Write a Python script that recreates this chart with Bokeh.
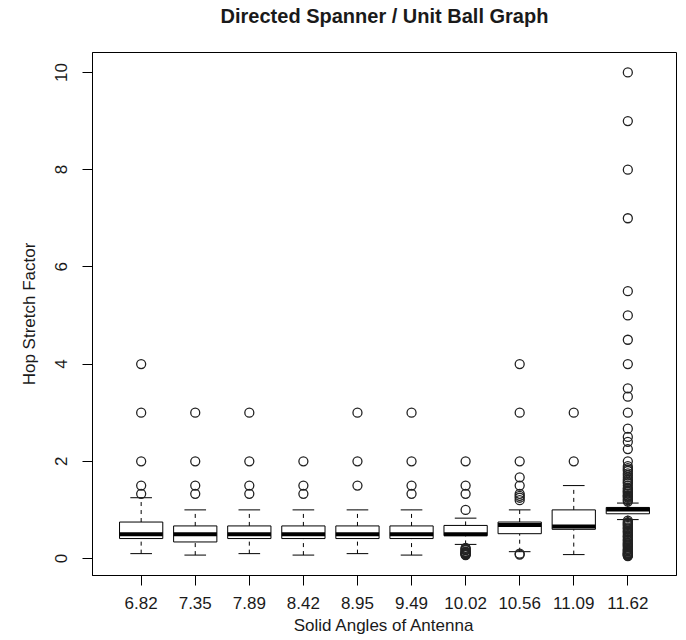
from bokeh.plotting import figure
from bokeh.models import Range1d, FixedTicker, LinearAxis
from bokeh.embed import file_html
from bokeh.resources import INLINE

# ---- data ----
angles = ["6.82", "7.35", "7.89", "8.42", "8.95", "9.49", "10.02", "10.56", "11.09", "11.62"]
q1 = [0.41, 0.34, 0.41, 0.41, 0.41, 0.41, 0.47, 0.51, 0.60, 0.92]
median = [0.50, 0.50, 0.50, 0.50, 0.50, 0.50, 0.50, 0.69, 0.66, 1.01]
q3 = [0.75, 0.67, 0.67, 0.67, 0.67, 0.67, 0.68, 0.75, 1.00, 1.05]
whisk_lo = [0.10, 0.07, 0.10, 0.07, 0.10, 0.07, 0.29, 0.14, 0.08, 0.80]
whisk_hi = [1.25, 1.00, 1.00, 1.00, 1.00, 1.00, 0.83, 1.00, 1.50, 1.14]

out_682 = [1.33, 1.5, 2.0, 3.0, 4.0]
out_735 = [1.33, 1.5, 2.0, 3.0]
out_789 = [1.33, 1.5, 2.0, 3.0]
out_842 = [1.33, 1.5, 2.0]
out_895 = [1.5, 2.0, 3.0]
out_949 = [1.33, 1.5, 2.0, 3.0]
out_1002 = [0.07, 0.08, 0.09, 0.10, 0.11, 0.12, 0.13, 0.14, 0.17, 0.18, 0.20, 0.22,
            1.0, 1.33, 1.5, 2.0]
out_1056 = [0.08, 0.10, 1.2, 1.25, 1.29, 1.33, 1.5, 1.67, 2.0, 3.0, 4.0]
out_1109 = [2.0, 3.0]
out_1162 = [0.05, 0.06, 0.07, 0.08, 0.09, 0.10, 0.11, 0.12, 0.14, 0.15, 0.17, 0.18,
            0.20, 0.23, 0.25, 0.27, 0.29, 0.31, 0.33, 0.36, 0.38, 0.40, 0.43, 0.45,
            0.47, 0.50, 0.53, 0.55, 0.57, 0.60, 0.62, 0.64, 0.67, 0.69, 0.71, 0.73,
            0.75, 0.78,
            1.17, 1.2, 1.22, 1.25, 1.27, 1.29, 1.3, 1.33, 1.36, 1.38, 1.4, 1.43,
            1.45, 1.5, 1.55, 1.57, 1.6, 1.63, 1.67, 1.71, 1.75, 1.8, 1.83, 1.86,
            1.9, 2.0, 2.25, 2.4, 2.5, 2.67, 3.0, 3.33, 3.5, 4.0, 4.5, 5.0, 5.5,
            7.0, 8.0, 9.0, 10.0]
outliers = [out_682, out_735, out_789, out_842, out_895, out_949,
            out_1002, out_1056, out_1109, out_1162]

y_ticks = [0, 2, 4, 6, 8, 10]

title_text = "Directed Spanner / Unit Ball Graph"
x_title = "Solid Angles of Antenna"
y_title = "Hop Stretch Factor"

# ---- figure ----
FONT = "Liberation Sans"
TXT = "#1a1a1a"

p = figure(frame_width=584, frame_height=523,
           min_border_left=92, min_border_right=4, min_border_top=52, min_border_bottom=65,
           x_range=Range1d(0.1, 10.9), y_range=Range1d(-0.35, 10.41),
           output_backend="svg", toolbar_location=None, tools="")

p.background_fill_color = "white"
p.border_fill_color = "white"
p.outline_line_color = "black"
p.outline_line_width = 1
p.xgrid.visible = False
p.ygrid.visible = False

xs = list(range(1, len(angles) + 1))
bw = 0.4   # half box width
cw = 0.2   # half cap width

# whiskers (dashed)
p.segment(x0=xs, y0=q3, x1=xs, y1=whisk_hi, line_color="black", line_width=1, line_dash="4 4")
p.segment(x0=xs, y0=whisk_lo, x1=xs, y1=q1, line_color="black", line_width=1, line_dash="4 4")
# caps
p.segment(x0=[x - cw for x in xs], y0=whisk_hi, x1=[x + cw for x in xs], y1=whisk_hi,
          line_color="black", line_width=1)
p.segment(x0=[x - cw for x in xs], y0=whisk_lo, x1=[x + cw for x in xs], y1=whisk_lo,
          line_color="black", line_width=1)
# boxes
p.quad(left=[x - bw for x in xs], right=[x + bw for x in xs], bottom=q1, top=q3,
       fill_color="white", line_color="black", line_width=1)
# medians
p.segment(x0=[x - bw for x in xs], y0=median, x1=[x + bw for x in xs], y1=median,
          line_color="black", line_width=4, line_cap="butt")

# outliers
ox, oy = [], []
for x, vals in zip(xs, outliers):
    for v in vals:
        ox.append(x)
        oy.append(v)
p.scatter(ox, oy, marker="circle", size=9, fill_color=None, line_color="#222222", line_width=1.3)

# axes
for ax in (p.xaxis[0], p.yaxis[0]):
    ax.axis_line_color = "black"
    ax.major_tick_line_color = "black"
    ax.major_tick_out = 10
    ax.major_tick_in = 0
    ax.minor_tick_line_color = None
    ax.major_label_text_font = FONT
    ax.major_label_text_font_size = "17px"
    ax.major_label_text_color = TXT
    ax.axis_label_text_font = FONT
    ax.axis_label_text_font_size = "17px"
    ax.axis_label_text_font_style = "normal"
    ax.axis_label_text_color = TXT

p.xaxis.ticker = FixedTicker(ticks=xs)
p.xaxis.major_label_overrides = {x: a for x, a in zip(xs, angles)}
p.xaxis.axis_label = x_title
p.xaxis.major_label_standoff = 11
p.xaxis.axis_label_standoff = 4

p.yaxis.ticker = FixedTicker(ticks=y_ticks)
p.yaxis.major_label_orientation = "vertical"
p.yaxis.axis_label = y_title
p.yaxis.major_label_standoff = 15
p.yaxis.axis_label_standoff = 14

# chart title carried by a tick-less axis above the frame
top = LinearAxis(ticker=FixedTicker(ticks=[]), axis_label=title_text,
                 axis_line_color=None, major_tick_line_color=None,
                 minor_tick_line_color=None, major_tick_out=0, major_tick_in=0,
                 major_label_standoff=0, axis_label_standoff=26,
                 axis_label_text_font=FONT, axis_label_text_font_size="20px",
                 axis_label_text_font_style="bold", axis_label_text_color=TXT)
p.add_layout(top, "above")

open("out.html", "w").write(file_html(p, INLINE))
